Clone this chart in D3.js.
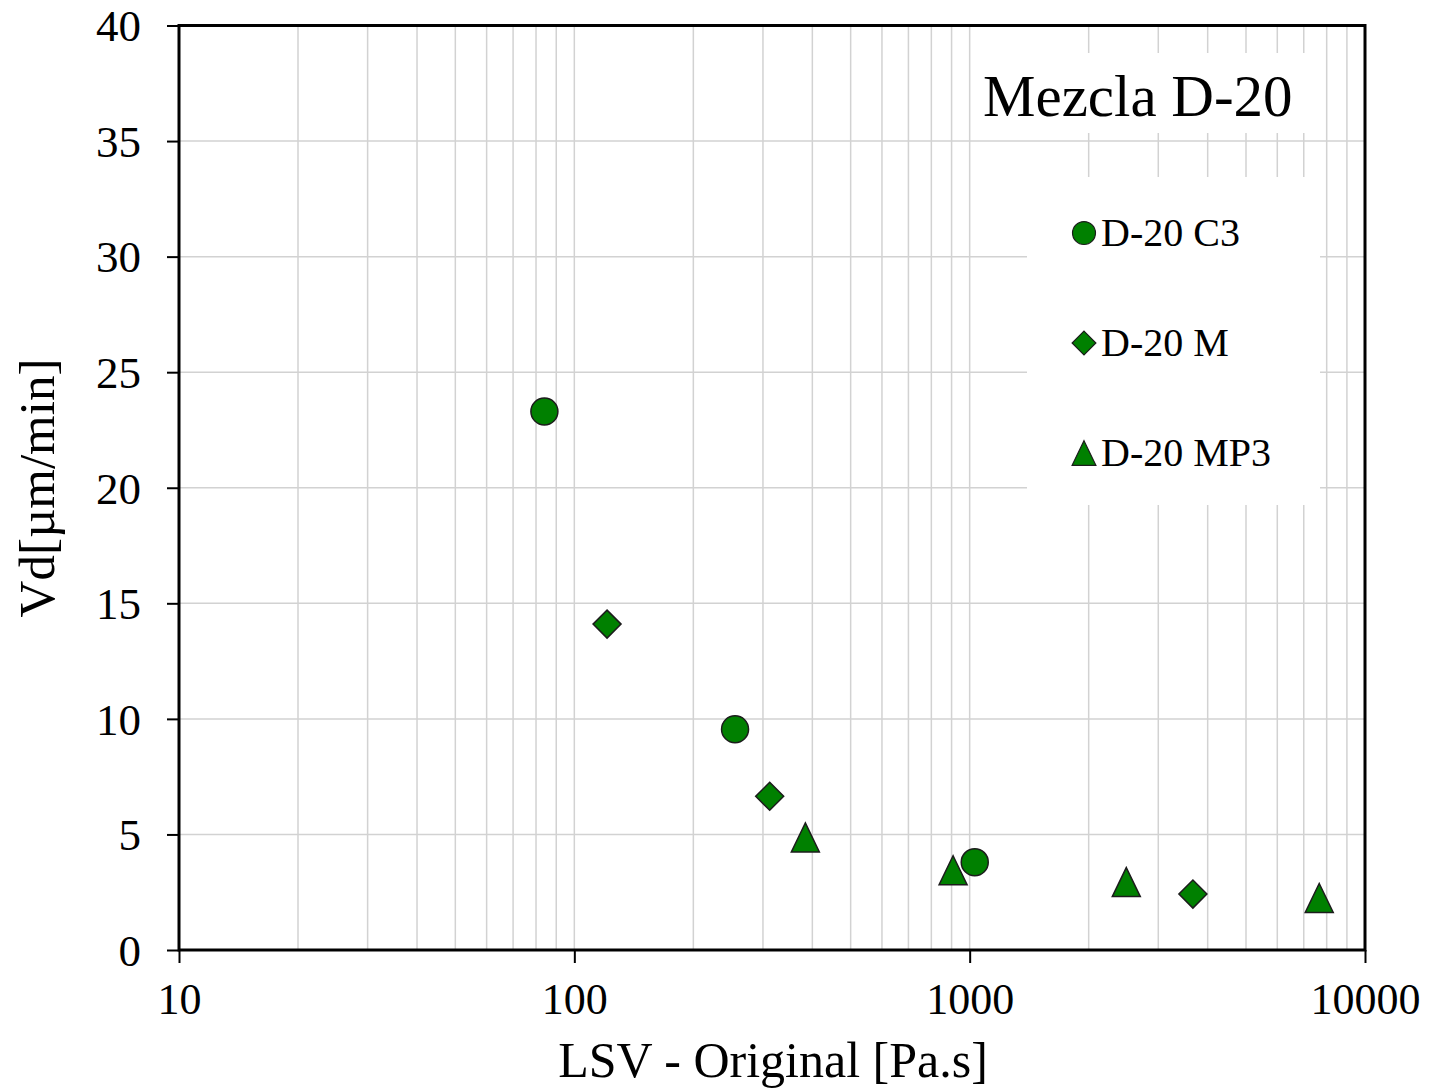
<!DOCTYPE html>
<html>
<head>
<meta charset="utf-8">
<script src="https://cdn.jsdelivr.net/npm/d3@7"></script>
<style>
  html, body { margin: 0; padding: 0; background: #fff; }
  svg { display: block; font-family: "Liberation Serif", "Times New Roman", serif; }
</style>
</head>
<body>
<svg id="chart" width="1429" height="1091"></svg>
<script>
// Series: LSV (Pa.s) vs Vd (µm/min)
const seriesNames = ["D-20 C3", "D-20 M", "D-20 MP3"];
const seriesShapes = ["circle", "diamond", "triangle"];
const lsvC3 = [84, 255, 1030];
const vdC3 = [23.3, 9.55, 3.8];
const lsvM = [121, 312, 3670];
const vdM = [14.1, 6.65, 2.42];
const lsvMP3 = [384, 908, 2490, 7660];
const vdMP3 = [4.87, 3.45, 2.94, 2.25];

const xTicks = [10, 100, 1000, 10000];
const yTicks = [0, 5, 10, 15, 20, 25, 30, 35, 40];
const chartTitle = "Mezcla D-20";
const xTitle = "LSV - Original [Pa.s]";
const yTitle = "Vd[µm/min]";

const series = [
  { name: seriesNames[0], shape: seriesShapes[0], x: lsvC3, y: vdC3 },
  { name: seriesNames[1], shape: seriesShapes[1], x: lsvM, y: vdM },
  { name: seriesNames[2], shape: seriesShapes[2], x: lsvMP3, y: vdMP3 }
];

const svg = d3.select("#chart");
const plotLeft = 179, plotRight = 1365, plotTop = 25.5, plotBottom = 950;

const x = d3.scaleLog().domain([10, 10000]).range([plotLeft, plotRight]);
const y = d3.scaleLinear().domain([0, 40]).range([plotBottom, plotTop]);

const gridColor = "#d2d2d2";
const fill = "#008000";
const stroke = "#1c1c1c";

// minor + major vertical gridlines
const vLines = [];
for (let d = 10; d < 10000; d *= 10) {
  for (let k = 1; k <= 9; k++) vLines.push(d * k);
}
svg.append("g").selectAll("line").data(vLines.filter(v => v > 10 && v < 10000)).join("line")
  .attr("x1", d => x(d)).attr("x2", d => x(d))
  .attr("y1", plotTop).attr("y2", plotBottom)
  .attr("stroke", gridColor).attr("stroke-width", 1.5);

// horizontal gridlines
svg.append("g").selectAll("line").data(yTicks.filter(v => v > 0 && v < 40)).join("line")
  .attr("x1", plotLeft).attr("x2", plotRight)
  .attr("y1", d => y(d)).attr("y2", d => y(d))
  .attr("stroke", gridColor).attr("stroke-width", 1.5);

// title and legend panels (white backgrounds over the grid)
svg.append("rect").attr("x", 975).attr("y", 53).attr("width", 340).attr("height", 80).attr("fill", "#fff");
svg.append("rect").attr("x", 1027).attr("y", 177).attr("width", 293).attr("height", 328).attr("fill", "#fff");

svg.append("text").attr("x", 983).attr("y", 116)
  .attr("font-size", 59).attr("fill", "#000").text(chartTitle);

// marker path generator, centred on the marker's bounding box
function markerPath(shape, s) {
  if (shape === "circle") {
    const r = 13.5 * s;
    return `M${-r},0A${r},${r} 0 1,0 ${r},0A${r},${r} 0 1,0 ${-r},0Z`;
  }
  if (shape === "diamond") {
    const h = 14 * s;
    return `M0,${-h}L${h},0L0,${h}L${-h},0Z`;
  }
  const w = 14 * s, h = 14.5 * s;
  return `M0,${-h}L${w},${h}L${-w},${h}Z`;
}

// frame
svg.append("rect").attr("x", plotLeft).attr("y", plotTop)
  .attr("width", plotRight - plotLeft).attr("height", plotBottom - plotTop)
  .attr("fill", "none").attr("stroke", "#000").attr("stroke-width", 3);

// y axis
const yAxis = d3.axisLeft(y).tickValues(yTicks).tickSize(12).tickPadding(26).tickFormat(d3.format("d"));
const gy = svg.append("g").attr("transform", `translate(${plotLeft},0)`).call(yAxis);
gy.select(".domain").remove();
gy.selectAll(".tick line").attr("stroke", "#000").attr("stroke-width", 2);
gy.selectAll(".tick text").attr("font-size", 45).attr("fill", "#000")
  .attr("font-family", "Liberation Serif, serif").attr("dy", "0.34em");

// x axis
const xAxis = d3.axisBottom(x).tickValues(xTicks).tickSize(13).tickPadding(20).tickFormat(d3.format("d"));
const gx = svg.append("g").attr("transform", `translate(0,${plotBottom})`).call(xAxis);
gx.select(".domain").remove();
gx.selectAll(".tick line").attr("stroke", "#000").attr("stroke-width", 2);
gx.selectAll(".tick text").attr("font-size", 44).attr("fill", "#000")
  .attr("font-family", "Liberation Serif, serif");

// axis titles
svg.append("text").attr("x", (plotLeft + plotRight) / 2 + 1).attr("y", 1077)
  .attr("text-anchor", "middle").attr("font-size", 50).text(xTitle);
svg.append("text").attr("transform", `translate(54,${488}) rotate(-90)`)
  .attr("text-anchor", "middle").attr("font-size", 51).text(yTitle);

// data markers
series.forEach(s => {
  svg.append("g").selectAll("path").data(s.x.map((v, i) => [v, s.y[i]])).join("path")
    .attr("transform", d => `translate(${x(d[0])},${y(d[1])})`)
    .attr("d", markerPath(s.shape, 1))
    .attr("fill", fill).attr("stroke", stroke).attr("stroke-width", 1.5);
});

// legend
const legend = svg.append("g");
series.forEach((s, i) => {
  const cy = 233 + i * 110;
  legend.append("path").attr("transform", `translate(1084,${cy})`)
    .attr("d", markerPath(s.shape, 0.85))
    .attr("fill", fill).attr("stroke", stroke).attr("stroke-width", 1.2);
  legend.append("text").attr("x", 1101).attr("y", cy + 13)
    .attr("font-size", 40).attr("fill", "#000").text(s.name);
});
</script>
</body>
</html>
